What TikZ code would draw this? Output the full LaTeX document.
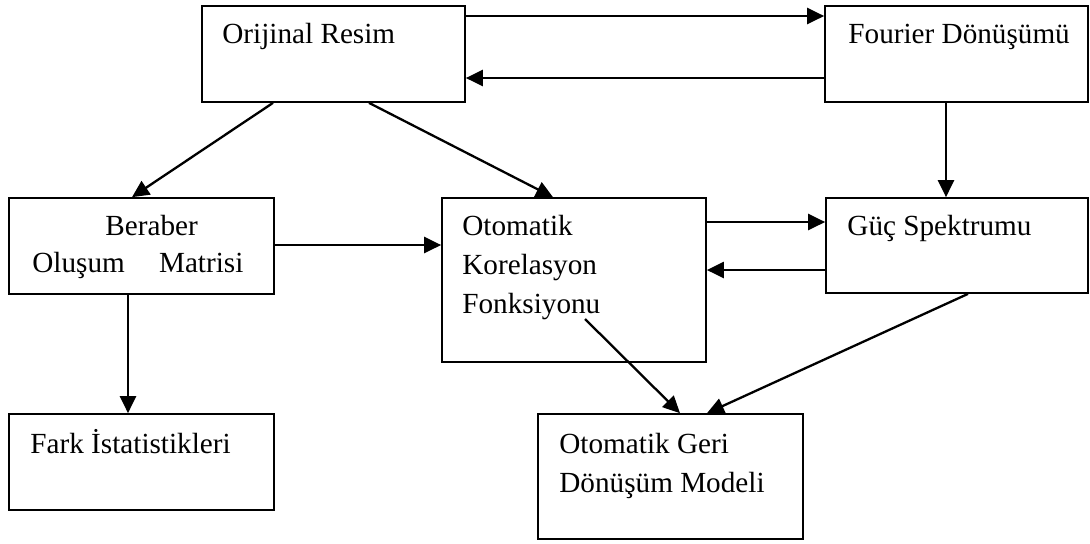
\documentclass[tikz,border=0pt]{standalone}
\usepackage{fontspec}
\setmainfont{Liberation Serif}
\usetikzlibrary{arrows.meta,fit}

\tikzset{
  box/.style={draw, line width=0.85pt, inner sep=0pt},
  lbl/.style={anchor=base west, inner sep=0pt, font=\fontsize{14.6}{17}\selectfont},
  arr/.style={line width=1.15pt, -{Triangle[length=8.5pt, width=8pt]}}
}

\begin{document}
\begin{tikzpicture}[x=0.5pt, y=-0.5pt]
    % Frame of the picture
    \useasboundingbox (0,0) rectangle (1090,543);

    % Boxes
    \node[box, fit={(202,6) (465,102)}] (orj) {};
    \node[box, fit={(825,6) (1088,102)}] (fou) {};
    \node[box, fit={(9,198) (274,294)}] (ber) {};
    \node[box, fit={(442,198) (706,362)}] (oto) {};
    \node[box, fit={(826,198) (1088,293)}] (guc) {};
    \node[box, fit={(9,414) (274,510)}] (fark) {};
    \node[box, fit={(538,414) (803,539)}] (geri) {};

    % Texts inside the boxes
    \node[lbl] (orjt) at (222,43) {Orijinal Resim};
    \node[lbl] (fout) at (848,43) {Fourier Dönüşümü};
    \node[lbl] (bert1) at (105,235) {Beraber};
    \node[lbl] (bert2) at (32,272) {\makebox[105.5pt][s]{Oluşum Matrisi}};
    \node[lbl] (otot1) at (462,235) {Otomatik};
    \node[lbl] (otot2) at (462,274) {Korelasyon};
    \node[lbl] (otot3) at (462,313) {Fonksiyonu};
    \node[lbl] (guct) at (847,235) {Güç Spektrumu};
    \node[lbl] (farkt) at (30,453) {Fark İstatistikleri};
    \node[lbl] (gerit1) at (559,453) {Otomatik Geri};
    \node[lbl] (gerit2) at (559,492) {Dönüşüm Modeli};

    % Start of the line out of Fonksiyonu
    \coordinate (fon) at (585,319);

    % Arrows
    \draw[arr] (orj.east |- 0,16) -- (fou.west |- 0,16);
    \draw[arr] (fou.west |- 0,78) -- (orj.east |- 0,78);
    \draw[arr] (orj.south -| 273,0) -- (ber.north -| 132,0);
    \draw[arr] (orj.south -| 369,0) -- (oto.north -| 553,0);
    \draw[arr] (fou.south -| 946,0) -- (guc.north -| 946,0);
    \draw[arr] (ber.east |- 0,245) -- (oto.west |- 0,245);
    \draw[arr] (oto.east |- 0,222) -- (guc.west |- 0,222);
    \draw[arr] (guc.west |- 0,270) -- (oto.east |- 0,270);
    \draw[arr] (ber.south -| 128,0) -- (fark.north -| 128,0);
    \draw[arr] (fon) -- (geri.north -| 680,0);
    \draw[arr] (guc.south -| 968,0) -- (geri.north -| 707,0);
\end{tikzpicture}
\end{document}
